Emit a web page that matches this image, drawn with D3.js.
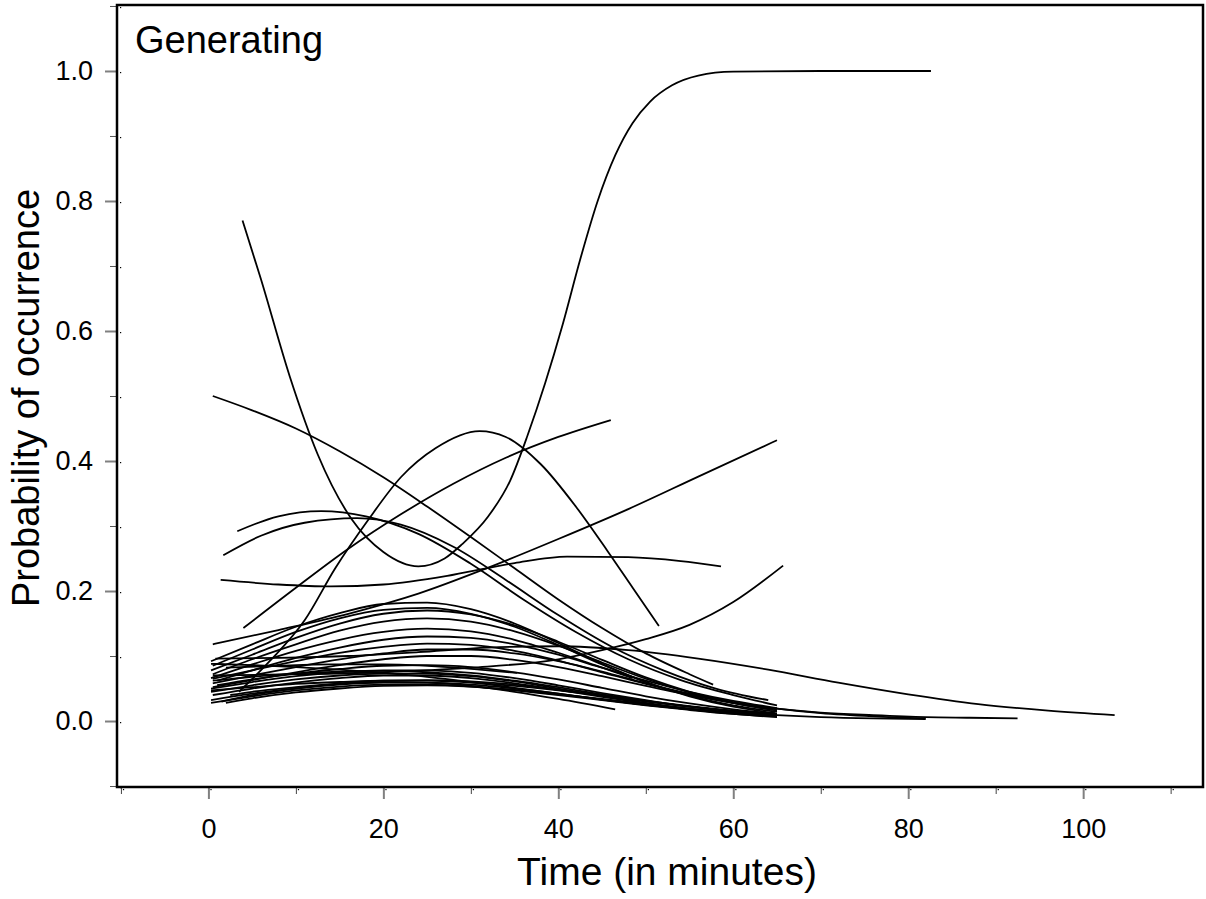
<!DOCTYPE html>
<html><head><meta charset="utf-8">
<script src="https://cdn.jsdelivr.net/npm/d3@7"></script>
<style>body{margin:0;background:#fff} svg{display:block} text{font-family:"Liberation Sans", Arial, sans-serif; fill:#000}</style>
</head><body><svg id="chart" width="1206" height="899"></svg>
<script>
// ---- Data (time in minutes, probability) ----
const panelTitle = "Generating";
const xLabel = "Time (in minutes)";
const yLabel = "Probability of occurrence";
const xMajorTicks = [0, 20, 40, 60, 80, 100];
const xMinorTicks = [-10, 10, 30, 50, 70, 90, 110];
const yMajorTicks = [0.0, 0.2, 0.4, 0.6, 0.8, 1.0];
const yMinorTicks = [-0.1, 0.1, 0.3, 0.5, 0.7, 0.9, 1.1];

const curveSigmoid = [[3.9,0.77],[6,0.68],[9.3,0.53],[12.5,0.41],[16.4,0.31],[20,0.26],[24,0.238],[27,0.25],[29,0.272],[32,0.315],[34.5,0.37],[36.5,0.44],[38.5,0.52],[40.5,0.61],[42.5,0.71],[44.5,0.8],[46.5,0.87],[48.5,0.92],[50.5,0.953],[53,0.978],[56,0.993],[60,0.999],[70,1.0],[82.6,1.0]];
const curveHump = [[3.5,0.045],[7,0.092],[11,0.155],[14.5,0.235],[18.3,0.31],[22,0.375],[26,0.42],[31,0.446],[34,0.437],[38,0.395],[42,0.33],[45.6,0.262],[48.5,0.205],[51.5,0.146]];
const curveFromHalf = [[0.5,0.5],[5,0.478],[10,0.45],[15,0.415],[20,0.375],[25,0.33],[30,0.283],[35,0.235],[40,0.187],[45,0.143],[50,0.104],[55,0.072],[57.7,0.056]];
const curveArcA = [[3.3,0.292],[8,0.315],[12.9,0.323],[18,0.315],[24,0.288],[30,0.242],[36,0.187],[42,0.137],[48,0.095],[54,0.063],[60,0.04],[65,0.024]];
const curveArcB = [[1.7,0.255],[6,0.285],[11,0.305],[17,0.312],[22,0.302],[28,0.268],[34,0.217],[40,0.163],[46,0.115],[52,0.078],[58,0.05],[64,0.032]];
const curveFlat = [[1.4,0.217],[8,0.21],[14,0.207],[20,0.21],[28,0.225],[35,0.243],[41,0.253],[48,0.252],[54,0.246],[58.6,0.238]];
const curveRiseA = [[4,0.143],[10,0.205],[16,0.265],[22,0.318],[28,0.365],[34,0.405],[40,0.437],[46,0.463]];
const curveRiseB = [[0.5,0.118],[8,0.14],[16,0.165],[24,0.196],[32,0.236],[40,0.28],[48,0.326],[56,0.376],[65,0.432]];
const curveConvex = [[0.5,0.07],[10,0.072],[20,0.075],[30,0.082],[40,0.095],[45,0.109],[50,0.126],[55,0.148],[60,0.183],[65.7,0.239]];
const curveLongTail = [[0.8,0.096],[8,0.097],[16,0.1],[24,0.106],[32,0.113],[40,0.115],[48,0.109],[56,0.096],[64,0.079],[72,0.059],[80,0.041],[88,0.026],[96,0.016],[103.6,0.009]];
const curveShort = [[2,0.082],[8,0.085],[14,0.087],[20,0.087],[26,0.084],[31,0.079],[35.3,0.074]];
const curveU1 = [[0.3,0.092],[5,0.118],[10,0.145],[15,0.166],[20,0.18],[25,0.182],[30,0.172],[35,0.15],[40,0.12],[45,0.088],[50,0.06],[55,0.038],[60,0.022],[64.8,0.012]];
const curveU2 = [[0.5,0.085],[5,0.11],[10,0.137],[15,0.158],[20,0.171],[25,0.174],[30,0.165],[35,0.145],[40,0.117],[45,0.087],[50,0.06],[55,0.039],[60,0.024],[65,0.014]];
const curveU3 = [[0.3,0.078],[5,0.102],[10,0.128],[15,0.15],[20,0.165],[25,0.17],[30,0.164],[35,0.147],[40,0.122],[45,0.094],[50,0.067],[55,0.045],[60,0.028],[65,0.016]];
const curveU4 = [[0.5,0.072],[5,0.095],[10,0.118],[15,0.139],[20,0.153],[25,0.158],[30,0.153],[35,0.138],[40,0.116],[45,0.09],[50,0.065],[55,0.044],[60,0.028],[64.5,0.017]];
const curveU5 = [[0.3,0.066],[5,0.087],[10,0.108],[15,0.125],[20,0.137],[25,0.142],[30,0.138],[35,0.125],[40,0.105],[45,0.082],[48.5,0.066]];
const curveU6 = [[1,0.062],[5,0.078],[10,0.097],[15,0.113],[20,0.125],[25,0.13],[30,0.128],[35,0.118],[40,0.102],[45,0.082],[50,0.062],[55,0.045],[60,0.031],[65,0.02]];
const curveM0 = [[0.5,0.065],[5,0.078],[10,0.092],[15,0.105],[20,0.114],[25,0.119],[30,0.117],[35,0.108],[40,0.093],[45,0.075],[50,0.057],[55,0.041],[60,0.028],[65,0.018]];
const curveM1 = [[0.5,0.058],[5,0.07],[10,0.083],[15,0.095],[20,0.104],[25,0.11],[30,0.11],[35,0.104],[40,0.092],[45,0.076],[50,0.058],[55,0.042],[60,0.029],[65,0.019],[70,0.012],[76,0.007],[82,0.004]];
const curveM2 = [[0.5,0.052],[5,0.063],[10,0.075],[15,0.086],[20,0.095],[25,0.1],[30,0.1],[35,0.094],[40,0.083],[45,0.069],[50,0.054],[55,0.04],[60,0.028],[65,0.019],[70,0.013],[76,0.009],[82,0.006],[87,0.005],[92.5,0.004]];
const curveM3 = [[1,0.055],[5,0.064],[10,0.073],[15,0.08],[20,0.085],[25,0.086],[30,0.083],[35,0.075],[40,0.064],[45,0.051],[50,0.038],[55,0.027],[60,0.018],[65,0.011]];
const curveL1 = [[0.3,0.05],[5,0.06],[10,0.069],[15,0.075],[20,0.078],[25,0.078],[30,0.074],[35,0.066],[40,0.055],[45,0.043],[50,0.032],[55,0.022],[60,0.015],[65,0.009]];
const curveL2 = [[0.3,0.045],[5,0.055],[10,0.064],[15,0.07],[20,0.073],[25,0.073],[30,0.069],[35,0.061],[40,0.05],[45,0.039],[50,0.028],[55,0.019],[60,0.012],[65,0.007]];
const curveL3 = [[0.5,0.04],[5,0.05],[10,0.059],[15,0.066],[20,0.07],[25,0.07],[30,0.066],[35,0.058],[40,0.048],[45,0.037],[50,0.027],[55,0.018],[60,0.011],[65,0.006]];
const curveL4 = [[1.5,0.03],[5,0.04],[10,0.05],[15,0.057],[20,0.06],[25,0.059],[30,0.054],[35,0.045],[40,0.034],[46.5,0.018]];
const curveL5 = [[0.3,0.032],[5,0.042],[10,0.05],[15,0.056],[20,0.059],[25,0.059],[30,0.056],[35,0.05],[40,0.042],[45,0.033],[50,0.025],[55,0.018],[60,0.012],[65,0.008]];
const curveL6 = [[0.3,0.028],[5,0.038],[10,0.047],[15,0.053],[20,0.056],[25,0.056],[30,0.053],[35,0.047],[40,0.04],[45,0.032],[50,0.024],[55,0.017],[60,0.011],[65,0.007]];
const curveL7 = [[2,0.028],[5,0.035],[10,0.044],[15,0.05],[20,0.054],[25,0.055],[30,0.053],[35,0.048],[40,0.041],[45,0.034],[50,0.026],[55,0.019],[60,0.013],[65,0.009],[70,0.006],[76,0.004],[82,0.003]];
const curveL8 = [[0.5,0.062],[5,0.068],[10,0.073],[15,0.076],[20,0.077],[25,0.075],[30,0.07],[35,0.062],[40,0.052],[45,0.041],[50,0.031],[55,0.022],[60,0.015],[65,0.01]];
const curveL9 = [[0.3,0.047],[5,0.052],[10,0.057],[15,0.06],[20,0.062],[25,0.062],[30,0.059],[35,0.054],[40,0.047],[45,0.039],[50,0.031],[55,0.023],[60,0.016],[65,0.011]];
const curveL10 = [[2.5,0.04],[5,0.045],[10,0.052],[15,0.058],[20,0.062],[25,0.063],[30,0.061],[35,0.056],[40,0.048],[45,0.039],[50,0.03],[55,0.022],[60,0.015],[65,0.01]];
const curveL11 = [[0.3,0.088],[5,0.086],[10,0.083],[15,0.079],[20,0.074],[25,0.068],[30,0.06],[35,0.051],[40,0.042],[45,0.033],[50,0.025],[55,0.018],[60,0.012],[65,0.008]];

const curves = [curveSigmoid, curveHump, curveFromHalf, curveArcA, curveArcB, curveFlat, curveRiseA, curveRiseB,
  curveConvex, curveLongTail, curveShort, curveU1, curveU2, curveU3, curveU4, curveU5, curveU6, curveM0, curveM1,
  curveM2, curveM3, curveL1, curveL2, curveL3, curveL4, curveL5, curveL6, curveL7, curveL8, curveL9, curveL10, curveL11];

// ---- Layout ----
const plot = {left: 117, right: 1203, top: 5, bottom: 787};
const svg = d3.select("#chart");
const x = d3.scaleLinear().domain([-10.45, 113.7]).range([plot.left, plot.right]);
const y = d3.scaleLinear().domain([-0.1015, 1.1015]).range([plot.bottom, plot.top]);

// curves
const line = d3.line().x(d => x(d[0])).y(d => y(d[1])).curve(d3.curveMonotoneX);
svg.append("g").selectAll("path").data(curves).join("path")
  .attr("d", line).attr("fill", "none").attr("stroke", "#000").attr("stroke-width", 1.8)
  .attr("stroke-linejoin", "round");

// x axis
const gxMinor = svg.append("g").attr("transform", `translate(0,${plot.bottom})`)
  .call(d3.axisBottom(x).tickValues(xMinorTicks).tickSize(7).tickFormat(""));
gxMinor.selectAll("line").attr("stroke", "#444").attr("stroke-width", 1);
const gx = svg.append("g").attr("transform", `translate(0,${plot.bottom})`)
  .call(d3.axisBottom(x).tickValues(xMajorTicks).tickSize(12).tickPadding(20).tickFormat(d3.format("d")));
gx.selectAll("line").attr("stroke", "#808080").attr("stroke-width", 2);
gx.selectAll("text").attr("font-size", 27).attr("fill", "#000");

// y axis
const gyMinor = svg.append("g").attr("transform", `translate(${plot.left},0)`)
  .call(d3.axisLeft(y).tickValues(yMinorTicks).tickSize(7).tickFormat(""));
gyMinor.selectAll("line").attr("stroke", "#555").attr("stroke-width", 1);
const gy = svg.append("g").attr("transform", `translate(${plot.left},0)`)
  .call(d3.axisLeft(y).tickValues(yMajorTicks).tickSize(12).tickPadding(12).tickFormat(d3.format(".1f")));
gy.selectAll("line").attr("stroke", "#808080").attr("stroke-width", 2);
gy.selectAll("text").attr("font-size", 27).attr("fill", "#000");
svg.selectAll(".domain").remove();

// tiny tick dots inside axes
svg.append("g").selectAll("rect").data(xMajorTicks.concat(xMinorTicks)).join("rect")
  .attr("x", d => x(d) + 2).attr("y", plot.bottom + 2).attr("width", 1.2).attr("height", 1.2).attr("fill", "#000");
svg.append("g").selectAll("rect").data(yMajorTicks.concat(yMinorTicks)).join("rect")
  .attr("x", plot.left + 3).attr("y", d => y(d) + 1).attr("width", 1.2).attr("height", 1.2).attr("fill", "#000");

// frame
svg.append("rect").attr("x", plot.left).attr("y", plot.top)
  .attr("width", plot.right - plot.left).attr("height", plot.bottom - plot.top)
  .attr("fill", "none").attr("stroke", "#000").attr("stroke-width", 2.5);

// texts
svg.append("text").attr("x", 135).attr("y", 53).attr("font-size", 38).text(panelTitle);
svg.append("text").attr("x", (plot.left + plot.right) / 2 + 7).attr("y", 885)
  .attr("text-anchor", "middle").attr("font-size", 39).text(xLabel);
svg.append("text").attr("transform", `translate(39,${(plot.top + plot.bottom) / 2 + 2}) rotate(-90)`)
  .attr("text-anchor", "middle").attr("font-size", 38).text(yLabel);
</script>
</body></html>
